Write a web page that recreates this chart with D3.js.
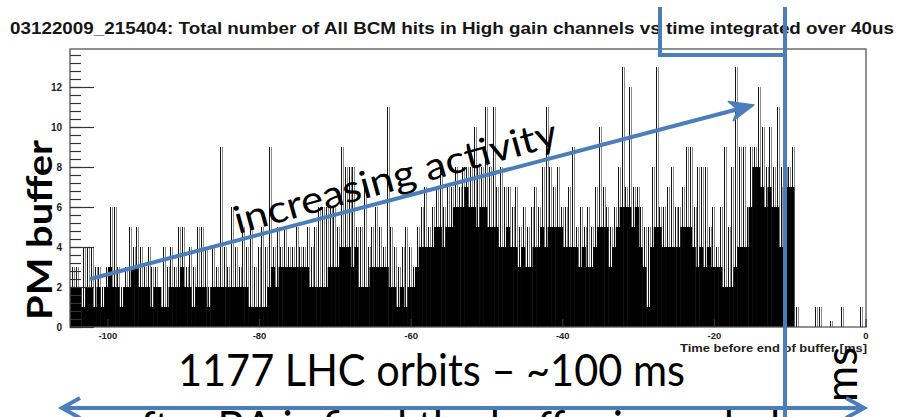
<!DOCTYPE html>
<html><head><meta charset="utf-8">
<script src="https://cdn.jsdelivr.net/npm/d3@7"></script>
<style>body{margin:0;background:#fff}svg{display:block}</style>
</head><body>
<svg id="c" width="900" height="417"></svg>
<script>
// ---- data ----
const binStart = -105;      // ms, left edge of first column
const binWidth = 0.5;       // ms per column
// black "mass" level of the histogram per column
const fillLevel = [
 2,2,2,1,2,2,1,2,1,2, 3,2,2,1,2,2,3,3,2,2, 2,1,2,2,1,1,2,2,2,3, 2,2,1,2,2,2,1,2,2,2,
 2,2,2,2,2,2,2,1,1,1, 1,1,2,3,2,3,3,3,3,3, 3,3,3,2,2,2,2,2,3,3, 3,4,4,4,3,4,2,2,2,3,
 3,3,3,3,2,2,1,2,1,2, 2,3,4,4,4,4,5,5,4,5, 5,6,6,6,7,6,6,5,6,6, 5,5,5,4,4,5,4,4,3,4,
 3,3,4,4,5,4,5,5,5,5, 4,4,4,4,3,4,3,3,4,5, 5,5,3,4,5,6,6,6,5,6, 4,3,1,4,5,5,4,4,4,4,
 4,5,5,5,4,3,4,3,4,3, 3,3,2,2,2,3,4,4,4,6, 8,8,7,6,7,6,6,4,7,7, 7,0,0,0,0,0,0,0,0,0,
 0,0,0,0,0,0,0,0,0,0
];
// highest spike per column
const peakLevel = [
 3,3,2,4,4,4,3,3,2,3, 6,6,3,2,3,5,4,5,4,3, 4,3,3,2,4,3,4,3,5,5, 3,4,3,5,5,4,2,4,3,9,
 4,3,6,4,3,5,4,5,3,4, 5,4,9,4,5,4,5,4,4,5, 4,4,5,4,5,6,6,6,6,6, 5,9,8,8,8,5,5,7,4,5,
 6,5,4,11,5,4,3,4,5,4, 3,5,6,7,5,6,7,8,6,7, 7,8,7,8,8,8,10,8,8,11, 8,11,7,8,7,7,6,7,5,6,
 5,6,7,6,8,11,8,7,8,6, 6,7,9,5,6,5,6,5,7,10, 7,6,5,6,8,13,7,12,7,7, 6,5,5,8,13,6,6,7,8,6,
 6,7,9,9,6,8,8,8,5,6, 4,6,9,5,8,13,9,9,6,9, 9,12,10,8,10,8,11,8,8,8, 9,1,0,0,0,0,1,1,0,0,
 0.3,0,0,1,0,0,0,0,1,0
];
const xTickValues = [-100,-80,-60,-40,-20,0];
const xTickLabels = ["-100","-80","-60","-40","-20","0"];
const yTickValues = [0,2,4,6,8,10,12];
const yTickLabels = ["0","2","4","6","8","10","12"];
const titleText = "03122009_215404: Total number of All BCM hits in High gain channels vs time integrated over 40us";
const xAxisTitle = "Time before end of buffer [ms]";
const noteActivity = "increasing activity";
const noteLeft = "PM buffer";
const noteOrbits = "1177 LHC orbits \u2013 ~100 ms";
const noteRight = "ms";
const noteBottom = "after BA is fired the buffer is readed";

// ---- layout ----
const svg = d3.select("#c");
const X0 = 70, X1 = 866, Y0 = 327, Y1 = 49;
const x = d3.scaleLinear().domain([binStart, 0]).range([X0, X1]);
const y = d3.scaleLinear().domain([0, 13.9]).range([Y0, Y1]);
const blue = "#4a7ebb";

// title
svg.append("text").attr("x", 10).attr("y", 34)
  .attr("font-family", "Liberation Sans, Arial, sans-serif").attr("font-weight", "bold")
  .attr("font-size", 17).attr("fill", "#161616")
  .attr("textLength", 884).attr("lengthAdjust", "spacingAndGlyphs")
  .text(titleText);

// histogram
const bins = fillLevel.map((f, i) => ({ x0: binStart + i * binWidth, fill: f, peak: peakLevel[i] }));
const spikes = bins.filter(d => d.peak > d.fill);
const g = svg.append("g");
// antialiased grey edge of each spike bin
g.selectAll("line.spikeb").data(spikes).join("line")
  .attr("class", "spikeb")
  .attr("x1", d => Math.round(x(d.x0 + binWidth / 2)) + 2.5)
  .attr("x2", d => Math.round(x(d.x0 + binWidth / 2)) + 2.5)
  .attr("y1", y(0)).attr("y2", d => y(d.peak))
  .attr("stroke", "#8c8c8c").attr("stroke-width", 1);
g.selectAll("line.spike").data(spikes).join("line")
  .attr("class", "spike")
  .attr("x1", d => Math.round(x(d.x0 + binWidth / 2)) + 0.5)
  .attr("x2", d => Math.round(x(d.x0 + binWidth / 2)) + 0.5)
  .attr("y1", y(0)).attr("y2", d => y(d.peak))
  .attr("stroke", "#151515").attr("stroke-width", 1);
g.selectAll("rect.bar").data(bins.filter(d => d.fill > 0)).join("rect")
  .attr("class", "bar")
  .attr("x", d => x(d.x0))
  .attr("width", d => x(d.x0 + binWidth) - x(d.x0) + 0.4)
  .attr("y", d => y(d.fill))
  .attr("height", d => y(0) - y(d.fill))
  .attr("fill", "#000");

// frame
svg.append("rect").attr("x", X0).attr("y", Y1).attr("width", X1 - X0).attr("height", Y0 - Y1)
  .attr("fill", "none").attr("stroke", "#555").attr("stroke-width", 1.3);

// y axis ticks: major + minor (every 0.4)
const minor = d3.range(0, 13.7, 0.4);
svg.append("g").selectAll("line").data(minor).join("line")
  .attr("x1", X0).attr("x2", X0 + 11)
  .attr("y1", d => Math.round(y(d)) + 0.5).attr("y2", d => Math.round(y(d)) + 0.5)
  .attr("stroke", "#333").attr("stroke-width", 1.2);
svg.append("g").selectAll("line").data(yTickValues).join("line")
  .attr("x1", X0).attr("x2", X0 + 24)
  .attr("y1", d => Math.round(y(d)) + 0.5).attr("y2", d => Math.round(y(d)) + 0.5)
  .attr("stroke", "#333").attr("stroke-width", 1.2);
svg.append("g").selectAll("text").data(yTickValues).join("text")
  .attr("x", 62).attr("y", d => y(d) + 3.5)
  .attr("text-anchor", "end")
  .attr("font-family", "Liberation Sans, Arial, sans-serif").attr("font-weight", "bold")
  .attr("font-size", 10).attr("fill", "#222")
  .text((d, i) => yTickLabels[i]);

// x axis ticks
svg.append("g").selectAll("line").data(xTickValues).join("line")
  .attr("x1", d => x(d)).attr("x2", d => x(d))
  .attr("y1", Y0).attr("y2", Y0 - 8)
  .attr("stroke", "#333").attr("stroke-width", 1.2);
svg.append("g").selectAll("text").data(xTickValues).join("text")
  .attr("x", d => x(d)).attr("y", 339)
  .attr("text-anchor", "middle")
  .attr("font-family", "Liberation Sans, Arial, sans-serif").attr("font-weight", "bold")
  .attr("font-size", 9.5).attr("fill", "#222")
  .text((d, i) => xTickLabels[i]);
svg.append("text").attr("x", 867).attr("y", 352).attr("text-anchor", "end")
  .attr("font-family", "Liberation Sans, Arial, sans-serif").attr("font-weight", "bold")
  .attr("font-size", 10).attr("fill", "#222")
  .attr("textLength", 187).attr("lengthAdjust", "spacingAndGlyphs")
  .text(xAxisTitle);

// annotation texts
const anno = "Lato, 'Open Sans', sans-serif";
svg.append("text").attr("transform", "translate(238,234) rotate(-15.5)")
  .attr("font-family", anno).attr("font-size", 38).attr("fill", "#000")
  .attr("textLength", 334).attr("lengthAdjust", "spacingAndGlyphs")
  .text(noteActivity);
svg.append("text").attr("transform", "translate(52,230) rotate(-90)")
  .attr("text-anchor", "middle")
  .attr("font-family", anno).attr("font-weight", "bold").attr("font-size", 35).attr("fill", "#000")
  .attr("textLength", 180).attr("lengthAdjust", "spacingAndGlyphs")
  .text(noteLeft);
svg.append("text").attr("x", 178).attr("y", 386)
  .attr("font-family", anno).attr("font-size", 44).attr("fill", "#000")
  .attr("textLength", 507).attr("lengthAdjust", "spacingAndGlyphs")
  .text(noteOrbits);
svg.append("text").attr("transform", "translate(857,402) rotate(-90)")
  .attr("font-family", anno).attr("font-size", 44).attr("fill", "#000")
  .text(noteRight);
svg.append("text").attr("x", 120).attr("y", 443)
  .attr("font-family", anno).attr("font-size", 44).attr("fill", "#000")
  .attr("textLength", 660).attr("lengthAdjust", "spacingAndGlyphs")
  .text(noteBottom);

// blue overlay shapes
const ov = svg.append("g").attr("stroke", blue).attr("fill", "none").attr("stroke-width", 4);
// box around the end of buffer + long vertical line
ov.append("path").attr("d", "M660,7 L660,55 L785,55 M785,7 L785,417");
// increasing-activity arrow
const ax0 = 90, ay0 = 279, ax1 = 754, ay1 = 105;
const ang = Math.atan2(ay1 - ay0, ax1 - ax0);
const L = 24, W = 10, N = 7;
const pt = (d, s) => [ax1 - d * Math.cos(ang) - s * Math.sin(ang), ay1 - d * Math.sin(ang) + s * Math.cos(ang)];
ov.append("line").attr("x1", ax0).attr("y1", ay0)
  .attr("x2", pt(L - N, 0)[0]).attr("y2", pt(L - N, 0)[1]);
svg.append("path")
  .attr("d", "M" + [ax1, ay1] + "L" + pt(L, -W) + "L" + pt(L - N, 0) + "L" + pt(L, W) + "Z")
  .attr("fill", blue).attr("stroke", blue).attr("stroke-width", 1.5).attr("stroke-linejoin", "round");
// bottom double arrow
ov.append("path").attr("d", "M62,408 L864,408");
ov.append("path").attr("d", "M80,398 L62,408 L80,418 M846,398 L864,408 L846,418")
  .attr("stroke-linejoin", "miter");
</script>
</body></html>
